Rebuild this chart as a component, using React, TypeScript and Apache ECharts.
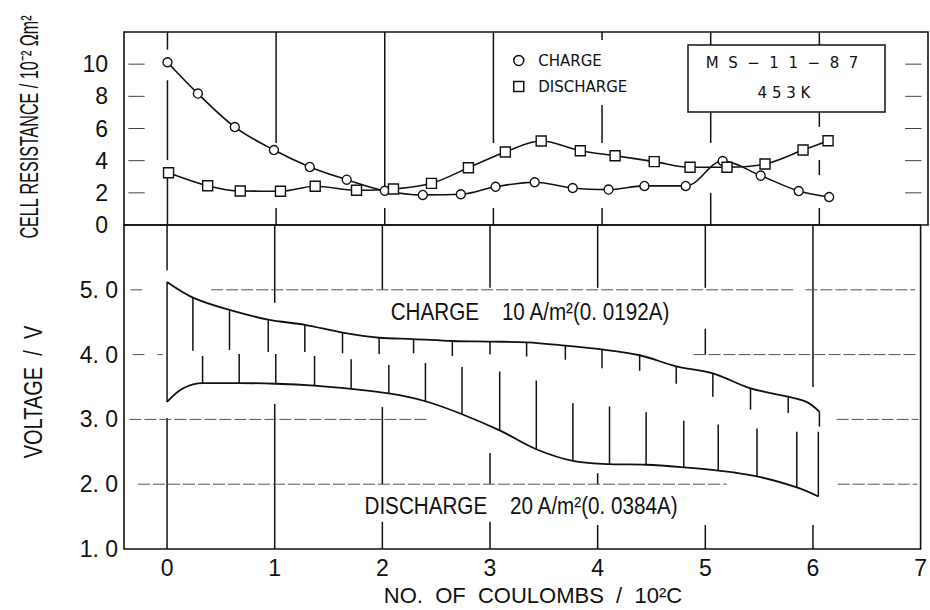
import React, { useEffect, useRef } from "react";
import * as echarts from "echarts";

// ---------- axis ticks ----------
const xTickValues = [0, 1, 2, 3, 4, 5, 6, 7];
const resTickValues = [0, 2, 4, 6, 8, 10];
const voltTickValues = [1, 2, 3, 4, 5];

// ---------- cell resistance (10^-2 Ωm²) ----------
const resChargeX = [0, 0.28, 0.62, 0.98, 1.31, 1.65, 2.0, 2.35, 2.7, 3.02, 3.38, 3.73, 4.06, 4.39, 4.77, 5.11, 5.46, 5.81, 6.09];
const resChargeY = [10.12, 8.17, 6.09, 4.66, 3.61, 2.82, 2.13, 1.87, 1.91, 2.38, 2.66, 2.3, 2.2, 2.43, 2.43, 3.98, 3.07, 2.11, 1.74];
const resDischargeX = [0.01, 0.37, 0.67, 1.04, 1.36, 1.74, 2.08, 2.43, 2.77, 3.11, 3.44, 3.8, 4.12, 4.48, 4.81, 5.15, 5.5, 5.85, 6.08];
const resDischargeY = [3.25, 2.44, 2.11, 2.1, 2.41, 2.16, 2.24, 2.59, 3.56, 4.54, 5.22, 4.62, 4.31, 3.94, 3.59, 3.59, 3.79, 4.66, 5.24];

// ---------- voltage (V) ----------
const voltChargeX = [0, 0.24, 0.58, 0.94, 1.28, 1.63, 1.97, 2.29, 2.65, 3.0, 3.34, 3.7, 4.04, 4.39, 4.73, 5.07, 5.42, 5.77, 5.94, 6.06];
const voltChargeV = [5.12, 4.88, 4.69, 4.54, 4.46, 4.34, 4.26, 4.24, 4.21, 4.2, 4.19, 4.14, 4.08, 3.99, 3.82, 3.71, 3.48, 3.35, 3.27, 3.12];
// lower end of each hatch line hanging from the charge curve (null = none)
const voltChargeHatchEnd = [3.27, 4.06, 4.07, 4.04, 4.04, 4.02, 4.01, 4.02, 3.98, 4.0, 3.97, 3.92, 3.79, 3.75, 3.55, 3.35, 3.15, 3.1, null, 2.89];

const voltDischargeX = [0, 0.15, 0.33, 0.67, 1.01, 1.37, 1.71, 2.06, 2.4, 2.74, 3.09, 3.43, 3.77, 4.11, 4.45, 4.8, 5.12, 5.48, 5.85, 6.05];
const voltDischargeV = [3.27, 3.48, 3.56, 3.56, 3.55, 3.52, 3.47, 3.4, 3.28, 3.08, 2.83, 2.54, 2.36, 2.31, 2.3, 2.26, 2.21, 2.12, 1.95, 1.81];
// upper end of each hatch line rising from the discharge curve (null = none)
const voltDischargeHatchTop = [null, null, 3.98, 4.01, 4.01, 3.98, 3.93, 3.84, 3.87, 3.81, 3.74, 3.6, 3.25, 3.2, 3.11, 2.98, 2.92, 2.86, 2.81, 2.81];

// ---------- broken grid lines of the original drawing ----------
// vertical: [x, yFrom, yTo]
const topVGrid = [
  [0, 12, 10.9], [0, 9.0, 4.04], [0, 3.0, 0],
  [1, 12, 5.1], [1, 1.06, 0],
  [2, 12, 2.36], [2, 1.06, 0],
  [3, 12, 5.1], [3, 1.06, 0],
  [4, 12, 11.5], [4, 7.46, 5.1], [4, 1.06, 0],
  [5, 12, 5.1], [5, 2.0, 0],
  [6, 12, 6.1], [6, 4.04, 3.1], [6, 1.06, 0],
];
const bottomVGrid = [
  [0, 6, 5.3], [0, 3.02, 1],
  [1, 6, 4.8], [1, 3.24, 1],
  [2, 6, 5.0], [2, 3.19, 2.0], [2, 1.42, 1],
  [3, 6, 5.03], [3, 2.48, 2.0], [3, 1.42, 1],
  [4, 6, 5.03], [4, 2.17, 2.0], [4, 1.37, 1],
  [5, 6, 5.03], [5, 4.4, 4.0], [5, 1.37, 1],
  [6, 6, 3.5], [6, 1.37, 1],
];
// horizontal: [y, xFrom, xTo]
const resMarkLevels = [2, 4, 6, 8, 10];
const resMarkSpans = [[-0.36, -0.21], [6.79, 6.94]];
const bottomHGrid = [
  [5, -0.34, -0.21], [5, 0.41, 5.82], [5, 5.93, 6.95],
  [4, -0.32, -0.21], [4, -0.09, -0.04], [4, 4.89, 6.97],
  [3, -0.35, 2.42], [3, 6.22, 6.98],
  [2, -0.27, 5.2], [2, 6.23, 6.97],
];

// ---------- texts ----------
const seriesNames = ["CHARGE", "DISCHARGE"];
const sampleLine1 = "M\u00A0\u00A0S\u00A0\u00A0\u2212\u00A0\u00A01\u00A0\u00A01\u00A0\u00A0\u2212\u00A0\u00A08\u00A0\u00A07";
const sampleLine2 = "4 5 3 K";
const chargeNote = "CHARGE\u00A0\u00A0\u00A0\u00A010 A/m\u00B2(0.\u00A00192A)";
const dischargeNote = "DISCHARGE\u00A0\u00A0\u00A0\u00A020 A/m\u00B2(0.\u00A00384A)";
const resAxisName = "CELL RESISTANCE / 10\u207B\u00B2 \u03A9m\u00B2";
const voltAxisName = "VOLTAGE\u00A0\u00A0/\u00A0\u00A0V";
const xAxisName = "NO.\u00A0\u00A0OF\u00A0\u00A0COULOMBS\u00A0\u00A0/\u00A0\u00A010\u00B2C";

const LABEL_FONT = "'Liberation Sans Narrow', 'Liberation Sans', sans-serif";
const INK = "#111";

const zip = (xs: number[], ys: number[]) => xs.map((x, i) => [x, ys[i]]);

function segRender(style: any) {
  return (params: any, api: any) => {
    const a = api.coord([api.value(0), api.value(1)]);
    const b = api.coord([api.value(2), api.value(3)]);
    return {
      type: "line",
      shape: { x1: a[0], y1: a[1], x2: b[0], y2: b[1] },
      style,
    };
  };
}

function segSeries(name: string, grid: number, data: number[][], style: any, z = 1) {
  return {
    type: "custom",
    name,
    xAxisIndex: grid,
    yAxisIndex: grid,
    silent: true,
    z,
    renderItem: segRender(style),
    encode: { x: [0, 2], y: [1, 3] },
    data,
  };
}

const centered = { align: "center", verticalAlign: "middle", textAlign: "center", textVerticalAlign: "middle" };

function buildOption() {
  const vTop = topVGrid.map(([x, a, b]) => [x, a, x, b]);
  const vBottom = bottomVGrid.map(([x, a, b]) => [x, a, x, b]);
  const hTop: number[][] = [];
  resMarkLevels.forEach((y) => resMarkSpans.forEach(([a, b]) => hTop.push([a, y, b, y])));
  const hBottom = bottomHGrid.map(([y, a, b]) => [a, y, b, y]);

  const hatches: number[][] = [];
  voltChargeX.forEach((x, i) => {
    const e = voltChargeHatchEnd[i];
    if (e !== null) hatches.push([x, voltChargeV[i], x, e]);
  });
  voltDischargeX.forEach((x, i) => {
    const t = voltDischargeHatchTop[i];
    if (t !== null) hatches.push([x, voltDischargeV[i], x, t]);
  });

  const gridLine = { stroke: INK, lineWidth: 1.5 };

  return {
    animation: false,
    backgroundColor: "#fff",
    grid: [
      { left: 124, right: 2, top: 32, height: 193, show: true, borderColor: INK, borderWidth: 1.6, backgroundColor: "transparent" },
      { left: 124, right: 2, top: 225, height: 324, show: true, borderColor: INK, borderWidth: 1.6, backgroundColor: "transparent" },
    ],
    xAxis: [
      { gridIndex: 0, type: "value", min: -0.4, max: 7, show: false },
      {
        gridIndex: 1,
        type: "value",
        min: -0.4,
        max: 7,
        axisLine: { show: false },
        axisTick: { show: false },
        splitLine: { show: false },
        axisLabel: {
          customValues: xTickValues,
          fontFamily: LABEL_FONT,
          fontSize: 23,
          color: INK,
          margin: 7,
          formatter: (v: number) => String(Math.round(v)),
        },
      },
    ],
    yAxis: [
      {
        gridIndex: 0,
        type: "value",
        min: 0,
        max: 12,
        interval: 2,
        axisLine: { show: false },
        axisTick: { show: false },
        splitLine: { show: false },
        axisLabel: {
          customValues: resTickValues,
          fontFamily: LABEL_FONT,
          fontSize: 23,
          color: INK,
          margin: 16,
        },
      },
      {
        gridIndex: 1,
        type: "value",
        min: 1,
        max: 6,
        interval: 1,
        axisLine: { show: false },
        axisTick: { show: false },
        splitLine: { show: false },
        axisLabel: {
          customValues: voltTickValues,
          fontFamily: LABEL_FONT,
          fontSize: 23,
          color: INK,
          margin: 6,
          formatter: (v: number) => v.toFixed(1).replace(".", ".\u00A0"),
        },
      },
    ],
    legend: {
      orient: "vertical",
      left: 508,
      top: 48,
      itemWidth: 10,
      itemHeight: 10,
      itemGap: 11,
      selectedMode: false,
      data: [
        { name: seriesNames[0], icon: "circle" },
        { name: seriesNames[1], icon: "rect" },
      ],
      itemStyle: { color: "#fff", borderColor: INK, borderWidth: 1.5 },
      lineStyle: { width: 0, opacity: 0 },
      formatter: (n: string) => "\u00A0\u00A0" + n,
      textStyle: { fontFamily: "'DejaVu Sans', sans-serif", fontSize: 15, color: INK },
    },
    graphic: [
      { type: "rect", z: 50, shape: { x: 688, y: 45, width: 197, height: 67 }, style: { fill: "#fff", stroke: INK, lineWidth: 1.5 } },
      { type: "text", z: 51, x: 782, y: 63, style: { text: sampleLine1, fontSize: 15, fontFamily: "'DejaVu Sans', sans-serif", fill: INK, ...centered } },
      { type: "text", z: 51, x: 784, y: 93, style: { text: sampleLine2, fontSize: 15, fontFamily: "'DejaVu Sans', sans-serif", fill: INK, ...centered } },
      { type: "text", z: 51, x: 530, y: 312, scaleX: 0.86, style: { text: chargeNote, fontSize: 24, fontFamily: "'Liberation Sans', sans-serif", fill: INK, ...centered } },
      { type: "text", z: 51, x: 521, y: 506, scaleX: 0.86, style: { text: dischargeNote, fontSize: 24, fontFamily: "'Liberation Sans', sans-serif", fill: INK, ...centered } },
      { type: "text", z: 51, x: 29, y: 127, rotation: Math.PI / 2, scaleX: 0.62, style: { text: resAxisName, fontSize: 26, fontFamily: "'Liberation Sans', sans-serif", fill: INK, ...centered } },
      { type: "text", z: 51, x: 34, y: 392, rotation: Math.PI / 2, scaleX: 0.8, style: { text: voltAxisName, fontSize: 25, fontFamily: "'Liberation Sans', sans-serif", fill: INK, ...centered } },
      { type: "text", z: 51, x: 533, y: 595, style: { text: xAxisName, fontSize: 22, fontFamily: "'Liberation Sans', sans-serif", fill: INK, ...centered } },
    ],
    series: [
      segSeries("grid-v-top", 0, vTop, gridLine),
      segSeries("grid-h-top", 0, hTop, { stroke: "#444", lineWidth: 1 }),
      segSeries("grid-v-bottom", 1, vBottom, gridLine),
      segSeries("grid-h-bottom", 1, hBottom, { stroke: "#555", lineWidth: 1, lineDash: [12, 3] }),
      {
        type: "line",
        name: seriesNames[0],
        xAxisIndex: 0,
        yAxisIndex: 0,
        data: zip(resChargeX, resChargeY),
        smooth: 0.35,
        symbol: "circle",
        symbolSize: 9,
        z: 4,
        lineStyle: { color: INK, width: 1.6 },
        itemStyle: { color: "#fff", borderColor: INK, borderWidth: 1.4 },
      },
      {
        type: "line",
        name: seriesNames[1],
        xAxisIndex: 0,
        yAxisIndex: 0,
        data: zip(resDischargeX, resDischargeY),
        smooth: 0.35,
        symbol: "rect",
        symbolSize: 10,
        z: 4,
        lineStyle: { color: INK, width: 1.6 },
        itemStyle: { color: "#fff", borderColor: INK, borderWidth: 1.4 },
      },
      {
        type: "line",
        name: "charge voltage",
        xAxisIndex: 1,
        yAxisIndex: 1,
        data: zip(voltChargeX, voltChargeV),
        smooth: 0.35,
        showSymbol: false,
        symbol: "none",
        z: 3,
        lineStyle: { color: INK, width: 1.8 },
      },
      {
        type: "line",
        name: "discharge voltage",
        xAxisIndex: 1,
        yAxisIndex: 1,
        data: zip(voltDischargeX, voltDischargeV),
        smooth: 0.35,
        showSymbol: false,
        symbol: "none",
        z: 3,
        lineStyle: { color: INK, width: 1.8 },
      },
      segSeries("hatch", 1, hatches, { stroke: INK, lineWidth: 1.5 }, 3),
    ],
  };
}

export default function App() {
  const ref = useRef<HTMLDivElement>(null);
  useEffect(() => {
    document.body.style.margin = "0";
    const chart = echarts.init(ref.current as HTMLDivElement, null, { renderer: "svg" });
    chart.setOption(buildOption() as any);
    return () => chart.dispose();
  }, []);
  return (
    <div
      ref={ref}
      style={{ position: "absolute", left: 0, top: 0, width: 930, height: 610, background: "#fff" }}
    />
  );
}
